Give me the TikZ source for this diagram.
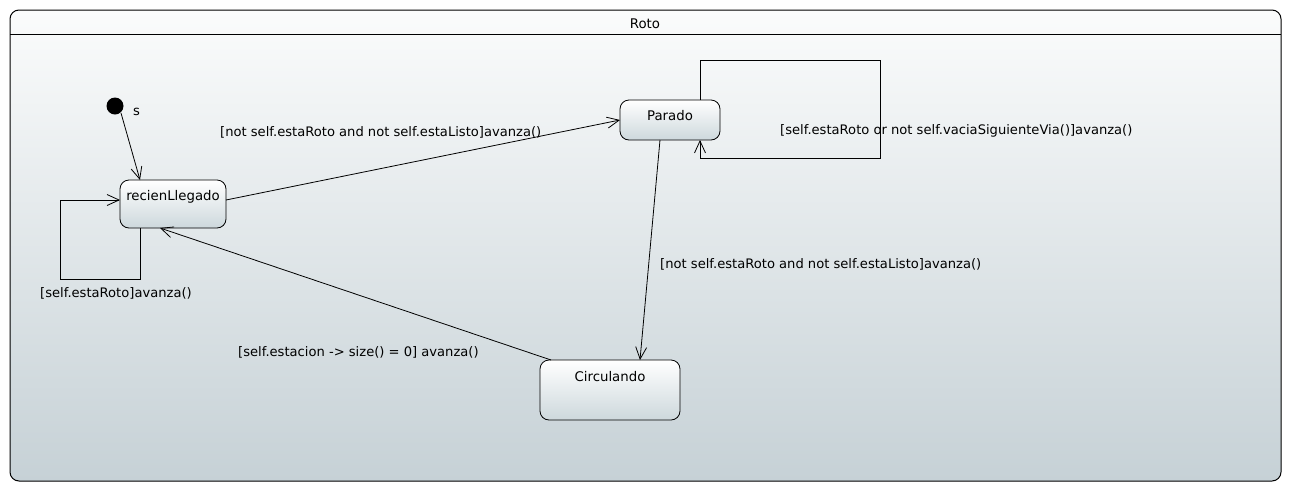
\documentclass[tikz,border=0pt]{standalone}
\usepackage{fontspec}
\setmainfont{DejaVu Sans}
\usetikzlibrary{arrows.meta,shapes.misc}
\definecolor{gtop}{HTML}{FBFCFC}
\definecolor{gbot}{HTML}{C6D1D6}
\definecolor{ntop}{HTML}{FFFFFF}
\definecolor{nbot}{HTML}{CDD8DC}
\tikzset{
  st/.style={draw=black, line width=0.8pt, rounded corners=9pt, top color=ntop, bottom color=nbot, inner sep=0pt},
  tr/.style={draw=black, line width=0.8pt, -{Straight Barb[length=12pt,width=11pt,line width=0.8pt]}},
  lbl/.style={font=\fontsize{13.1}{15}\selectfont, inner sep=0pt, anchor=west},
  nm/.style={font=\fontsize{13.3}{15}\selectfont, inner sep=0pt, anchor=north}
}
\begin{document}
\begin{tikzpicture}[x=1pt,y=-1pt]
\useasboundingbox (0,0) rectangle (1291,491);
% frame
\node[draw=black, line width=1pt, rounded corners=9pt, top color=gtop, bottom color=gbot, minimum width=1271pt, minimum height=471pt, inner sep=0pt] (frame) at (645.5,245.5) {};
\coordinate (hl) at (10,34);
\coordinate (hr) at (1281,34);
\draw[line width=1pt] (hl) -- (hr);
\node[font=\fontsize{13.3}{15}\selectfont, inner sep=0pt] (title) at (645,24) {Roto};
% states
\node[st, minimum width=106pt, minimum height=48pt] (rl) at (173,204) {};
\node[nm] (rlt) at (173,190) {recienLlegado};
\node[st, minimum width=100pt, minimum height=40pt] (pa) at (670,120) {};
\node[nm] (pat) at (670,110) {Parado};
\node[st, minimum width=140pt, minimum height=60pt] (ci) at (610,390) {};
\node[nm] (cit) at (610,371) {Circulando};
% initial
\node[circle, fill=black, minimum size=17pt, inner sep=0pt] (init) at (115,106) {};
\node[lbl] (s) at (133,112) {s};
% transitions
\coordinate (i1) at (121,113);
\coordinate (i2) at (140,180);
\draw[tr] (i1) -- (i2);
% recien self loop
\coordinate (a1) at (140,228);
\coordinate (a2) at (140,279);
\coordinate (a3) at (60,279);
\coordinate (a4) at (60,200);
\coordinate (a5) at (120,200);
\draw[tr] (a1) -- (a2) -- (a3) -- (a4) -- (a5);
\node[lbl] (la) at (40,293) {[self.estaRoto]avanza()};
% recien -> parado
\coordinate (b1) at (226,200);
\coordinate (b2) at (620,120);
\draw[tr] (b1) -- (b2);
\node[lbl] (lb) at (220,132) {[not self.estaRoto and not self.estaListo]avanza()};
% parado self loop
\coordinate (c1) at (700,100);
\coordinate (c2) at (700,60);
\coordinate (c3) at (880,60);
\coordinate (c4) at (880,158);
\coordinate (c5) at (700,158);
\coordinate (c6) at (700,140);
\draw[tr] (c1) -- (c2) -- (c3) -- (c4) -- (c5) -- (c6);
\node[lbl] (lc) at (780,131) {[self.estaRoto or not self.vaciaSiguienteVia()]avanza()};
% parado -> circulando
\coordinate (d1) at (660,140);
\coordinate (d2) at (640,360);
\draw[tr] (d1) -- (d2);
\node[lbl] (ld) at (660,264) {[not self.estaRoto and not self.estaListo]avanza()};
% circulando -> recien
\coordinate (e1) at (551,360);
\coordinate (e2) at (160,228);
\draw[tr] (e1) -- (e2);
\node[lbl] (le) at (238,352) {[self.estacion -> size() = 0] avanza()};
\end{tikzpicture}
\end{document}
